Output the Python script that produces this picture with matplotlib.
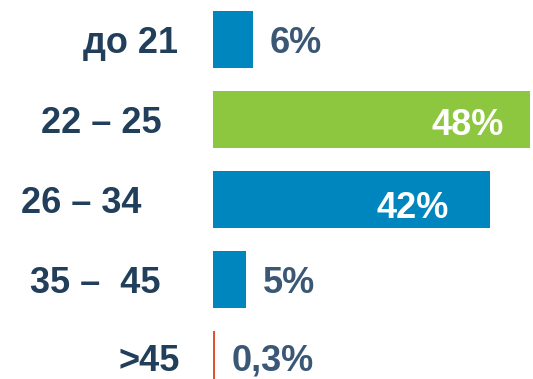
import matplotlib.pyplot as plt

# age groups and their share of respondents, %
groups = ["до 21", "22 – 25", "26 – 34", "35 –  45", ">45"]
shares = [6, 48, 42, 5, 0.3]
share_labels = ["6%", "48%", "42%", "5%", "0,3%"]

bar_colors = ["#0086BF", "#8DC63F", "#0086BF", "#0086BF", "#E0532B"]
# label placement: inside the bar (white) for the big ones, outside otherwise
inside = [False, True, True, False, False]
inside_pad = [0, 4.0, 6.3, 0, 0]
# horizontal centre of each group label, as a fraction of figure width
group_x = [0.244, 0.19, 0.152, 0.178, 0.28]
# small vertical nudges for the text of each row (in row units)
text_dy = [0, 0.02, 0.06, 0, -0.03]

plt.rcParams["font.family"] = ["Liberation Sans", "DejaVu Sans"]

fig = plt.figure(figsize=(5.33, 3.79), dpi=100)
ax = fig.add_axes([0, 0, 1, 1])

px = 6.6  # pixels per percent
ax.set_xlim(-213 / px, (533 - 213) / px)
ax.set_ylim((379 - 39.5) / 80, -39.5 / 80)

ypos = range(len(groups))
ax.barh(ypos, shares, height=57 / 80, color=bar_colors, left=0)

for y, g, gx, dy in zip(ypos, groups, group_x, text_dy):
    ax.text(gx, y + min(dy, 0), g, transform=ax.get_yaxis_transform(), ha="center",
            va="center_baseline", fontsize=26, fontweight="bold", color="#213F5A")

for y, v, lab, inn, pad, dy in zip(ypos, shares, share_labels, inside, inside_pad, text_dy):
    if inn:
        ax.text(v - pad, y + dy, lab, ha="right", va="center_baseline",
                fontsize=26, fontweight="bold", color="white")
    else:
        ax.text(v + 17 / px, y + dy, lab, ha="left", va="center_baseline",
                fontsize=26, fontweight="bold", color="#3A5875")

ax.axis("off")
fig.savefig("out.png", dpi=100)
